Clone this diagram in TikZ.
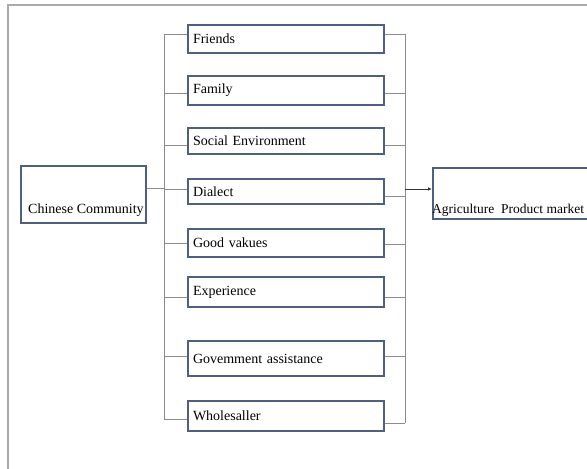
\documentclass[tikz,border=0pt]{standalone}
\usetikzlibrary{arrows.meta}
\usepackage{fontspec}
\setmainfont{Liberation Serif}
\definecolor{boxblue}{RGB}{78,96,128}
\definecolor{connGray}{RGB}{140,140,140}
\definecolor{frameGray}{RGB}{170,170,170}
\begin{document}
\begin{tikzpicture}[x=1pt,y=-1pt,
  box/.style={draw=boxblue, line width=2pt, fill=white, rectangle, inner xsep=5pt, inner ysep=0pt,
    minimum width=196pt, text width=186pt, align=left, font=\fontsize{14}{16}\selectfont},
  plainbox/.style={draw=boxblue, line width=2pt, fill=white, rectangle},
  lbl/.style={inner sep=0pt, font=\fontsize{14}{16}\selectfont},
  conn/.style={draw=connGray, line width=1pt},
  arr/.style={draw=black!80, line width=0.9pt, -{Latex[length=4pt,width=3.5pt]}}]
\useasboundingbox (0,0) rectangle (587,469);
\begin{scope}
\clip (0,0) rectangle (587,469);
\draw[frameGray, line width=1.4pt] (8,480) -- (8,5) -- (600,5);
\end{scope}

% Chinese Community
\node[plainbox, minimum width=125pt, minimum height=57pt] (cc) at (83.5,194.5) {};
\node[lbl, anchor=base west] (cct) at (28,213) {Chinese Community};

% middle boxes
\node[box, minimum height=28pt] (f1) at (286,39) {Friends};
\node[box, minimum height=29pt] (f2) at (286,90.5) {Family};
\node[box, minimum height=26pt] (f3) at (286,141) {Social Environment};
\node[box, minimum height=25pt] (f4) at (286,191.5) {Dialect};
\node[box, minimum height=28pt] (f5) at (286,243) {Good vakues};
\node[box, minimum height=30pt] (f6) at (286,292) {Experience};
\node[box, minimum height=35pt] (f7) at (286,358.5) {Govemment assistance};
\node[box, minimum height=30pt] (f8) at (286,416) {Wholesaller};

% Agriculture Product market (cut by the right edge)
\begin{scope}
\clip (0,0) rectangle (587,469);
\node[plainbox, minimum width=160pt, minimum height=51pt, anchor=north west] (ag) at (432,167) {};
\end{scope}
\node[lbl, anchor=base west, font=\fontsize{13.5}{16}\selectfont] (agt) at (432,213) {Agriculture\ \ Product market};

% left spine
\coordinate (l0) at (164,188);
\coordinate (l1) at (164,34);
\coordinate (l2) at (164,93);
\coordinate (l3) at (164,145);
\coordinate (l4) at (164,189);
\coordinate (l5) at (164,243);
\coordinate (l6) at (164,297);
\coordinate (l7) at (164,356);
\coordinate (l8) at (164,419);
\draw[conn] (l1) -- (l8);
\draw[conn] (cc.east |- l0) -- (l0);
\foreach \i in {1,...,8} {\draw[conn] (l\i) -- (l\i -| f\i.west);}

% right spine
\coordinate (r1) at (405,34);
\coordinate (r2) at (405,93);
\coordinate (r3) at (405,145);
\coordinate (r4) at (405,196);
\coordinate (r5) at (405,244);
\coordinate (r6) at (405,297);
\coordinate (r7) at (405,356);
\coordinate (r8) at (405,423);
\draw[conn] (r1) -- (r8);
\foreach \i in {1,...,8} {\draw[conn] (f\i.east |- r\i) -- (r\i);}

\coordinate (ra) at (405,189);
\draw[arr] (ra) -- (ag.west |- ra);
\end{tikzpicture}
\end{document}
